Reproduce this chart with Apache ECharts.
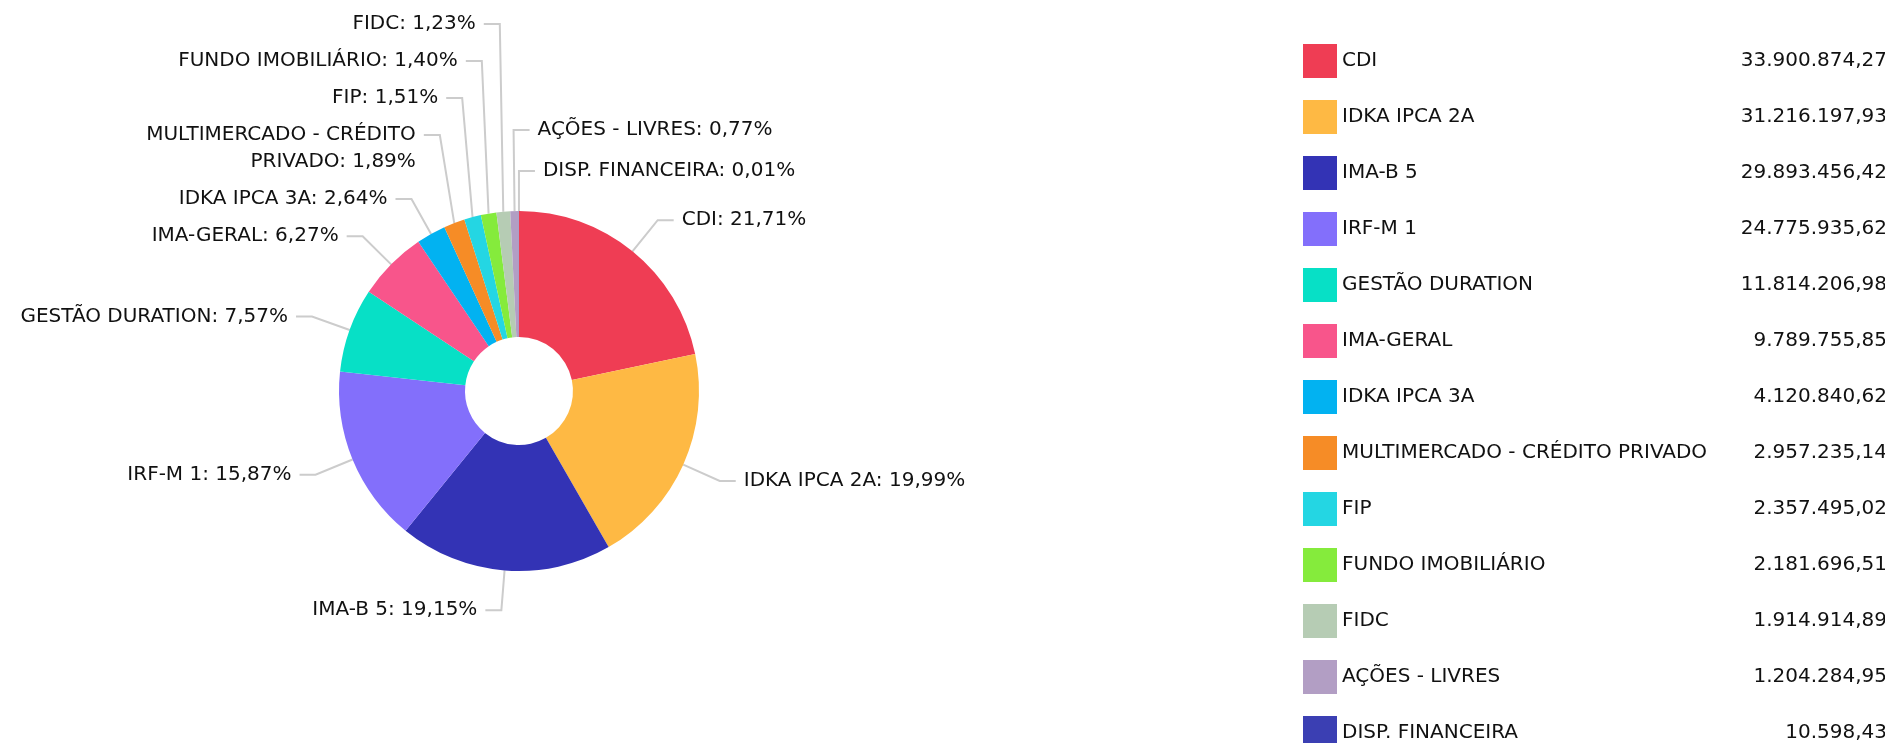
<!DOCTYPE html>
<html>
<head>
<meta charset="utf-8">
<script src="https://cdn.jsdelivr.net/npm/echarts@6/dist/echarts.min.js"></script>
<style>
  html, body { margin: 0; padding: 0; background: #fff; }
  #chart { width: 1885px; height: 743px; }
</style>
</head>
<body>
<div id="chart"></div>
<script>
  const names = ['CDI', 'IDKA IPCA 2A', 'IMA-B 5', 'IRF-M 1', 'GESTÃO DURATION', 'IMA-GERAL', 'IDKA IPCA 3A',
    'MULTIMERCADO - CRÉDITO PRIVADO', 'FIP', 'FUNDO IMOBILIÁRIO', 'FIDC', 'AÇÕES - LIVRES', 'DISP. FINANCEIRA'];
  const values = [33900874.27, 31216197.93, 29893456.42, 24775935.62, 11814206.98, 9789755.85, 4120840.62,
    2957235.14, 2357495.02, 2181696.51, 1914914.89, 1204284.95, 10598.43];
  const colors = ['#ef3d54', '#feb944', '#3333b5', '#836ffb', '#07e0c6', '#f8558b', '#02b2f1',
    '#f68c26', '#24d6e3', '#85eb3c', '#b6ccb4', '#b29ec4', '#3b3fb3'];

  const font = 'DejaVu Sans';
  const pieCenter = [519, 391];
  const lineLen2 = 16;
  const textGap = 8;
  const maxLabelChars = 24;
  const total = values.reduce(function (s, v) { return s + v; }, 0);

  function fmtBR(v) {
    let parts = v.toFixed(2).split('.');
    return parts[0].replace(/\B(?=(\d{3})+(?!\d))/g, '.') + ',' + parts[1];
  }

  // wrap long labels on word boundaries
  function wrap(text) {
    let lines = [], cur = '';
    text.split(' ').forEach(function (w) {
      if (cur && (cur + ' ' + w).length > maxLabelChars) {
        lines.push(cur);
        cur = w;
      } else {
        cur = cur ? cur + ' ' + w : w;
      }
    });
    lines.push(cur);
    return lines.join('\n');
  }

  // labels: first pass records where echarts puts them, second pass stacks
  // the crowded ones upward (small slices near the top)
  let natural = [];
  function recordLabel(p) {
    natural[p.dataIndex] = {
      rect: p.labelRect,
      pts: p.labelLinePoints ? p.labelLinePoints.map(function (q) { return q.slice(); }) : null
    };
    return {};
  }

  function buildLayout() {
    const cx = pieCenter[0], cy = pieCenter[1];
    let left = [], right = [];
    let singleH = Infinity;
    natural.forEach(function (n, i) {
      if (!n || !n.pts) return;
      const a = n.pts[0];
      const item = { i: i, n: n, theta: Math.atan2(a[0] - cx, cy - a[1]), y: n.pts[2][1], h: n.rect.height };
      singleH = Math.min(singleH, n.rect.height);
      if (a[0] >= cx - 10) right.push(item); else left.push(item);
    });
    right.sort(function (p, q) { return p.theta - q.theta; });
    left.sort(function (p, q) { return q.theta - p.theta; });

    function stack(list, extra) {
      let limit = Infinity;
      for (let k = list.length - 1; k >= 0; k--) {
        const it = list[k];
        const up = singleH / 2 + extra, down = it.h - singleH / 2;
        let y = it.y;
        if (y + down > limit) y = limit - down;
        it.newY = y;
        limit = y - up;
      }
    }
    stack(left, 0);
    stack(right, 4);

    let out = [];
    left.concat(right).forEach(function (it) {
      const pts = it.n.pts.map(function (q) { return q.slice(); });
      pts[1][1] = it.newY;
      pts[2][1] = it.newY;
      let res = { y: it.newY, labelLinePoints: pts };
      if (it.h > singleH + 1) {
        res.verticalAlign = 'top';
        res.y = it.newY - singleH / 2;
      }
      if (right.indexOf(it) >= 0 && pts[2][0] < pts[1][0]) {
        pts[2][0] = pts[1][0] + lineLen2;
        res.x = pts[2][0] + textGap;
        res.align = 'left';
      }
      out[it.i] = res;
    });
    return out;
  }

  let chart = echarts.init(document.getElementById('chart'));
  let option = {
    backgroundColor: '#ffffff',
    animation: false,
    color: colors,
    legend: {
      orient: 'vertical',
      left: 1298,
      top: 39,
      height: 800,
      icon: 'rect',
      itemWidth: 34,
      itemHeight: 34,
      itemGap: 22,
      data: names,
      formatter: function (name) {
        let i = names.indexOf(name);
        return '{n|' + name + '}{v|' + fmtBR(values[i]) + '}';
      },
      textStyle: {
        fontFamily: font,
        fontSize: 20,
        color: '#111',
        rich: {
          n: { width: 395, fontFamily: font, fontSize: 20, color: '#111' },
          v: { width: 150, align: 'right', fontFamily: font, fontSize: 20, color: '#111' }
        }
      }
    },
    series: [{
      type: 'pie',
      center: pieCenter,
      radius: [54, 180],
      startAngle: 90,
      avoidLabelOverlap: false,
      label: {
        fontFamily: font,
        fontSize: 20,
        color: '#111',
        lineHeight: 27,
        padding: [5, 0],
        distanceToLabelLine: textGap,
        formatter: function (p) {
          let pct = (p.value / total * 100).toFixed(2).replace('.', ',');
          return wrap(p.name + ': ' + pct + '%');
        }
      },
      labelLine: {
        length: 40,
        length2: lineLen2,
        lineStyle: { color: '#cccccc', width: 2 }
      },
      labelLayout: recordLabel,
      data: names.map(function (n, i) { return { name: n, value: values[i] }; })
    }]
  };
  chart.setOption(option);

  const placed = buildLayout();
  chart.setOption({
    series: [{
      labelLayout: function (p) { return placed[p.dataIndex] || {}; }
    }]
  });
</script>
</body>
</html>
